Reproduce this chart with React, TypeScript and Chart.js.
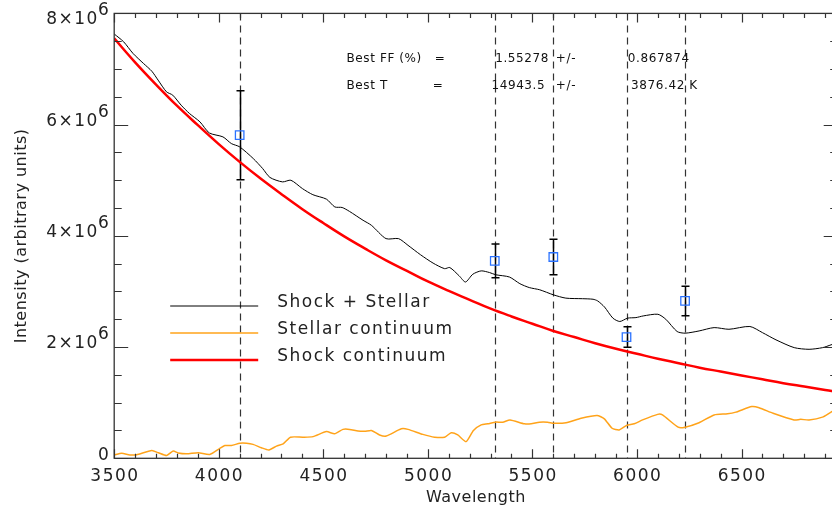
import React, { useEffect, useRef } from 'react';
import { Chart, registerables } from 'chart.js';

Chart.register(...registerables);

// ---------- data (intensity in units of 10^6) ----------
const combinedWl = [3500, 3545, 3590, 3640, 3680, 3710, 3750, 3780, 3820, 3860, 3910, 3955, 4020, 4060, 4100, 4165, 4210, 4245, 4305, 4345, 4400, 4450, 4515, 4555, 4590, 4625, 4690, 4730, 4800, 4860, 4905, 4965, 5025, 5080, 5105, 5150, 5180, 5215, 5255, 5295, 5325, 5390, 5440, 5485, 5535, 5600, 5660, 5740, 5790, 5812, 5845, 5885, 5918, 5955, 5995, 6030, 6100, 6138, 6192, 6230, 6297, 6369, 6440, 6540, 6600, 6665, 6752, 6823, 6888, 6928, 6960];
const combinedFlux = [7.63, 7.49, 7.28, 7.1, 6.96, 6.8, 6.59, 6.53, 6.35, 6.2, 6.05, 5.85, 5.78, 5.66, 5.6, 5.39, 5.21, 5.05, 4.97, 5.0, 4.85, 4.74, 4.66, 4.52, 4.51, 4.44, 4.28, 4.19, 3.95, 3.95, 3.83, 3.66, 3.51, 3.41, 3.43, 3.28, 3.17, 3.31, 3.37, 3.34, 3.3, 3.26, 3.14, 3.07, 3.03, 2.94, 2.88, 2.87, 2.86, 2.83, 2.72, 2.52, 2.46, 2.52, 2.53, 2.56, 2.59, 2.5, 2.28, 2.25, 2.29, 2.35, 2.32, 2.37, 2.26, 2.13, 1.99, 1.96, 1.99, 2.04, 2.08];

const stellarWl = [3500, 3536, 3575, 3607, 3680, 3711, 3751, 3782, 3806, 3846, 3902, 3957, 4005, 4029, 4061, 4101, 4133, 4164, 4204, 4240, 4276, 4308, 4343, 4403, 4451, 4515, 4554, 4594, 4626, 4666, 4698, 4730, 4769, 4801, 4873, 4905, 4976, 5032, 5080, 5112, 5143, 5183, 5218, 5255, 5287, 5323, 5358, 5393, 5462, 5494, 5533, 5573, 5602, 5661, 5733, 5809, 5844, 5881, 5915, 5950, 5987, 6027, 6099, 6122, 6197, 6230, 6297, 6369, 6433, 6473, 6549, 6584, 6651, 6751, 6783, 6823, 6887, 6928, 6960];
const stellarFlux = [0.06, 0.09, 0.06, 0.065, 0.14, 0.1, 0.05, 0.13, 0.095, 0.08, 0.1, 0.07, 0.18, 0.23, 0.23, 0.27, 0.27, 0.25, 0.19, 0.15, 0.22, 0.26, 0.38, 0.38, 0.39, 0.48, 0.44, 0.52, 0.52, 0.49, 0.485, 0.5, 0.42, 0.4, 0.53, 0.52, 0.43, 0.38, 0.38, 0.46, 0.42, 0.3, 0.5, 0.6, 0.62, 0.65, 0.65, 0.69, 0.62, 0.62, 0.65, 0.65, 0.63, 0.64, 0.72, 0.77, 0.71, 0.54, 0.51, 0.59, 0.62, 0.69, 0.79, 0.78, 0.56, 0.56, 0.64, 0.78, 0.8, 0.83, 0.93, 0.91, 0.81, 0.69, 0.7, 0.69, 0.74, 0.83, 0.88];

const shockWl = [3500, 3600, 3700, 3800, 3900, 4000, 4100, 4200, 4300, 4400, 4500, 4600, 4700, 4800, 4900, 5000, 5100, 5200, 5300, 5400, 5500, 5600, 5700, 5800, 5900, 6000, 6100, 6200, 6300, 6400, 6500, 6600, 6700, 6800, 6900, 6960];
const shockFlux = [7.55, 7.12, 6.72, 6.34, 5.99, 5.65, 5.33, 5.03, 4.75, 4.48, 4.23, 3.99, 3.77, 3.56, 3.37, 3.18, 3.01, 2.85, 2.69, 2.55, 2.42, 2.29, 2.18, 2.07, 1.97, 1.88, 1.79, 1.71, 1.63, 1.56, 1.49, 1.42, 1.35, 1.29, 1.23, 1.19];

const lineWl = [4100, 5320, 5600, 5950, 6230];
const measFlux = [5.81, 3.55, 3.62, 2.18, 2.83];
const measErr = [0.8, 0.305, 0.32, 0.185, 0.265];

const xMajorTicks = [3500, 4000, 4500, 5000, 5500, 6000, 6500];
const yMajorTicks = [0, 2, 4, 6, 8];
const yExponent = '6';

const legendLabels = ['Shock + Stellar', 'Stellar continuum', 'Shock continuum'];
const xTitle = 'Wavelength';
const yTitle = 'Intensity (arbitrary units)';

const fitRow1Wl = [4611, 5033, 5322, 5612, 5956];
const fitRow1Text = ['Best FF (%)', '=', '1.55278', '+/-', '0.867874'];
const fitRow2Wl = [4611, 5023, 5304, 5612, 5972];
const fitRow2Text = ['Best T', '=', '14943.5', '+/-', '3876.42 K'];
const fitRowY = [7.18, 6.69];

const X_MIN = 3500;
const X_MAX = 6960;
const Y_MIN = 0;
const Y_MAX = 8;

const COL_BLACK = '#000000';
const COL_ORANGE = '#ffa31a';
const COL_RED = '#ff0000';
const COL_BLUE = '#2a72ff';
const COL_AXIS = '#333333';
const COL_TEXT = '#222222';

const idlPlugin = {
  id: 'idlDecor',
  beforeDatasetsDraw(chart: any) {
    const { ctx, chartArea: a, scales } = chart;
    const x = scales.x;
    const y = scales.y;
    ctx.save();
    // dashed vertical lines
    ctx.strokeStyle = COL_AXIS;
    ctx.lineWidth = 1.2;
    ctx.setLineDash([7, 5]);
    lineWl.forEach((w) => {
      const px = Math.round(x.getPixelForValue(w)) + 0.5;
      ctx.beginPath();
      ctx.moveTo(px, a.top);
      ctx.lineTo(px, a.bottom);
      ctx.stroke();
    });
    ctx.setLineDash([]);
    // error bars
    ctx.strokeStyle = '#000';
    ctx.lineWidth = 1.5;
    lineWl.forEach((w, i) => {
      const px = Math.round(x.getPixelForValue(w)) + 0.5;
      const top = y.getPixelForValue(measFlux[i] + measErr[i]);
      const bot = y.getPixelForValue(measFlux[i] - measErr[i]);
      ctx.beginPath();
      ctx.moveTo(px, top);
      ctx.lineTo(px, bot);
      ctx.moveTo(px - 4, top);
      ctx.lineTo(px + 4, top);
      ctx.moveTo(px - 4, bot);
      ctx.lineTo(px + 4, bot);
      ctx.stroke();
    });
    ctx.restore();
  },
  afterDraw(chart: any) {
    const { ctx, chartArea: a, scales } = chart;
    const x = scales.x;
    const y = scales.y;
    ctx.save();
    // axes box
    ctx.strokeStyle = COL_AXIS;
    ctx.lineWidth = 1.3;
    ctx.strokeRect(a.left, a.top, a.right - a.left, a.bottom - a.top);
    ctx.lineWidth = 1.2;
    // x ticks (bottom & top, inward)
    for (let v = X_MIN; v <= X_MAX; v += 100) {
      const major = v % 500 === 0;
      const len = major ? 9 : 4.5;
      const px = Math.round(x.getPixelForValue(v)) + 0.5;
      ctx.beginPath();
      ctx.moveTo(px, a.bottom);
      ctx.lineTo(px, a.bottom - len);
      ctx.moveTo(px, a.top);
      ctx.lineTo(px, a.top + len);
      ctx.stroke();
    }
    // y ticks (left & right, inward)
    for (let v = Y_MIN; v <= Y_MAX + 1e-9; v += 0.5) {
      const major = Math.abs(v % 2) < 1e-9;
      const len = major ? 14 : 7.5;
      const py = Math.round(y.getPixelForValue(v)) + 0.5;
      ctx.beginPath();
      ctx.moveTo(a.left, py);
      ctx.lineTo(a.left + len, py);
      ctx.moveTo(a.right, py);
      ctx.lineTo(a.right - len, py);
      ctx.stroke();
    }
    // tick labels
    ctx.fillStyle = COL_TEXT;
    ctx.font = '17px "DejaVu Sans"';
    (ctx as any).letterSpacing = '1.5px';
    ctx.textBaseline = 'middle';
    ctx.textAlign = 'center';
    xMajorTicks.forEach((v) => {
      ctx.fillText(String(v), x.getPixelForValue(v) + 0.75, a.bottom + 18);
    });
    ctx.textAlign = 'right';
    yMajorTicks.forEach((v) => {
      const py = y.getPixelForValue(v);
      const cy = Math.max(py - 3, a.top + 6.5);
      const right = a.left - 4;
      if (v === 0) {
        ctx.fillText('0', right, cy);
        return;
      }
      ctx.fillText(yExponent, right, cy - 9);
      const w = ctx.measureText(yExponent).width;
      ctx.fillText(v + '×10', right - w + 1, cy);
    });
    // axis titles
    ctx.font = '16px "DejaVu Sans"';
    (ctx as any).letterSpacing = '0.5px';
    ctx.textAlign = 'center';
    ctx.fillText(xTitle, (a.left + a.right) / 2, a.bottom + 40);
    ctx.save();
    ctx.translate(22, (a.top + a.bottom) / 2);
    ctx.rotate(-Math.PI / 2);
    ctx.fillText(yTitle, 0, 0);
    ctx.restore();
    // legend
    const legendColors = [COL_BLACK, COL_ORANGE, COL_RED];
    const legendWidths = [1, 1.5, 2.5];
    ctx.font = '17px "DejaVu Sans"';
    (ctx as any).letterSpacing = '1.5px';
    ctx.textAlign = 'left';
    ctx.textBaseline = 'alphabetic';
    legendLabels.forEach((lab, i) => {
      const ly = a.top + 292.6 + i * 27;
      ctx.strokeStyle = legendColors[i];
      ctx.lineWidth = legendWidths[i];
      ctx.beginPath();
      ctx.moveTo(a.left + 56, ly);
      ctx.lineTo(a.left + 144, ly);
      ctx.stroke();
      ctx.fillStyle = COL_TEXT;
      ctx.fillText(lab, a.left + 163, ly + 1);
    });
    // fit results
    ctx.font = '12px "DejaVu Sans"';
    (ctx as any).letterSpacing = '0.6px';
    ctx.fillStyle = '#111';
    ctx.textBaseline = 'middle';
    const rows = [
      [fitRow1Wl, fitRow1Text],
      [fitRow2Wl, fitRow2Text],
    ] as any[];
    rows.forEach((r, ri) => {
      const py = y.getPixelForValue(fitRowY[ri]);
      r[0].forEach((w: number, k: number) => {
        ctx.fillText(r[1][k], x.getPixelForValue(w), py);
      });
    });
    ctx.restore();
  },
};

export default function App() {
  const ref = useRef<HTMLCanvasElement | null>(null);
  useEffect(() => {
    if (!ref.current) return;
    const toXY = (xs: number[], ys: number[]) => xs.map((v, i) => ({ x: v, y: ys[i] }));
    const chart = new Chart(ref.current, {
      type: 'line',
      data: {
        datasets: [
          {
            type: 'scatter',
            label: 'measurements',
            data: toXY(lineWl, measFlux),
            pointStyle: 'rect',
            pointRadius: 6,
            pointBorderWidth: 1.3,
            borderColor: COL_BLUE,
            backgroundColor: 'rgba(0,0,0,0)',
            order: 0,
          } as any,
          {
            label: legendLabels[2],
            data: toXY(shockWl, shockFlux),
            borderColor: COL_RED,
            borderWidth: 2.5,
            pointRadius: 0,
            tension: 0.4,
            fill: false,
            order: 1,
          },
          {
            label: legendLabels[0],
            data: toXY(combinedWl, combinedFlux),
            borderColor: COL_BLACK,
            borderWidth: 1,
            pointRadius: 0,
            tension: 0.25,
            fill: false,
            order: 2,
          },
          {
            label: legendLabels[1],
            data: toXY(stellarWl, stellarFlux),
            borderColor: COL_ORANGE,
            borderWidth: 1.5,
            pointRadius: 0,
            tension: 0.2,
            fill: false,
            order: 3,
          },
        ],
      },
      options: {
        animation: false,
        responsive: false,
        devicePixelRatio: 1,
        layout: { padding: { left: 114.2, right: 6.6, top: 13.4, bottom: 51.7 } },
        plugins: { legend: { display: false }, tooltip: { enabled: false } },
        scales: {
          x: { type: 'linear', min: X_MIN, max: X_MAX, display: false },
          y: { type: 'linear', min: Y_MIN, max: Y_MAX, display: false },
        },
      },
      plugins: [idlPlugin],
    });
    return () => chart.destroy();
  }, []);
  return (
    <div style={{ position: 'absolute', left: 0, top: 0, width: 832, height: 510, overflow: 'hidden', background: '#fff' }}>
      <canvas ref={ref} width={845} height={510} style={{ width: 845, height: 510, display: 'block' }} />
    </div>
  );
}
